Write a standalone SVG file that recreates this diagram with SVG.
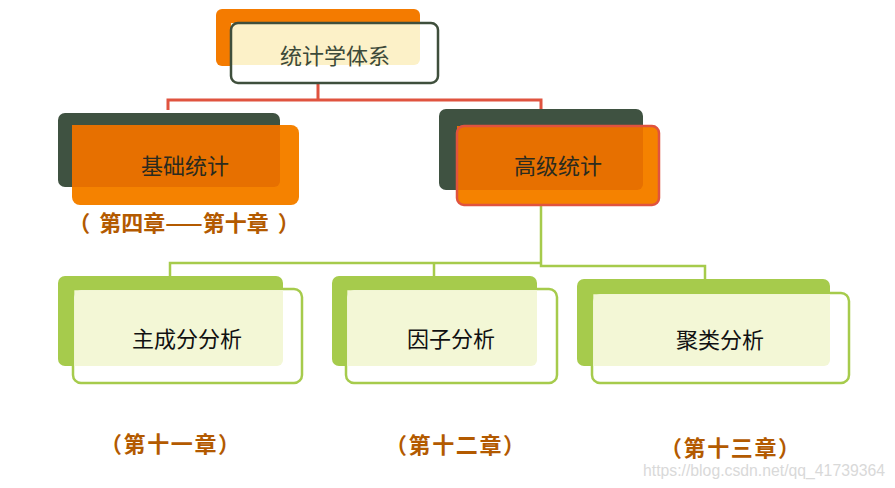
<svg xmlns="http://www.w3.org/2000/svg" width="895" height="488" viewBox="0 0 895 488">
<style>
.cn{font-family:"Noto Sans CJK SC","Noto Sans",sans-serif;font-size:22px;text-anchor:middle;dominant-baseline:central}
.lbl{font-family:"Noto Sans CJK SC","Noto Sans",sans-serif;font-size:22px;font-weight:bold;fill:#B35A00;text-anchor:middle;dominant-baseline:central}
.dark{fill:#3F5241}
.org{fill:#F58200}
.ovo{fill:#E77000}
.grn{fill:#A6CB4C}
.ovg{fill:#F3F7D6}
.gfront{fill:#FFFFFF;stroke:#A6CB4C;stroke-width:2.5}
.red{fill:none;stroke:#E0533F;stroke-width:3}
.gl{fill:none;stroke:#A6CB4C;stroke-width:2.5}
</style>
<rect width="895" height="488" fill="#FFFFFF"/>
<g id="connectors">
<path class="red" d="M318,83 V100 M168,110 V100 H541 V110"/>
<path d="M318,68 V82" stroke="#F5E6C0" stroke-width="2" fill="none"/>
<path class="gl" d="M541,205 V266 H705 V279 M541,263 H170 V276 M434,263 V276"/>
</g>
<g id="node-top">
<rect x="216" y="9" width="204" height="57" rx="6" fill="#F47B00"/>
<rect x="231" y="23" width="207" height="60" rx="7" fill="#FFFFFF"/>
<path d="M231,23 H420 V59 a6,6 0 0 1 -6,6 H231 Z" fill="#FCF1C8"/>
<rect x="231" y="23" width="207" height="60" rx="7" fill="none" stroke="#3F4F3C" stroke-width="2.5"/>
<text class="cn" x="335" y="54" fill="#3D4A3A">统计学体系</text>
</g>
<g id="node-basic">
<rect class="dark" x="58" y="113" width="222" height="74" rx="7"/>
<rect class="org" x="72" y="125" width="227" height="80" rx="8"/>
<path class="ovo" d="M72,125 H280 V181 a6,6 0 0 1 -6,6 H72 Z"/>
<text class="cn" x="185" y="164" fill="#2B2B1F">基础统计</text>
<text class="lbl" x="184" y="221">（<tspan dx="9">第四章——第十章</tspan><tspan dx="9">）</tspan></text>
</g>
<g id="node-advanced">
<rect class="dark" x="439" y="109" width="204" height="81" rx="7"/>
<rect class="org" x="457" y="126" width="202" height="79" rx="7"/>
<path class="ovo" d="M457,126 H643 V184 a6,6 0 0 1 -6,6 H457 Z"/>
<rect x="457" y="126" width="202" height="79" rx="7" fill="none" stroke="#E0533F" stroke-width="2.5"/>
<text class="cn" x="558" y="164" fill="#2B2B1F">高级统计</text>
</g>
<g id="node-pca">
<rect class="grn" x="58" y="276" width="225" height="90" rx="7"/>
<rect class="gfront" x="73" y="289" width="229" height="94" rx="8"/>
<path class="ovg" d="M74.3,290.3 H283 V360 a6,6 0 0 1 -6,6 H74.3 Z"/>
<text class="cn" x="187" y="337" fill="#111111">主成分分析</text>
<text class="lbl" x="170" y="442" textLength="140" lengthAdjust="spacing">（第十一章）</text>
</g>
<g id="node-factor">
<rect class="grn" x="332" y="276" width="205" height="90" rx="7"/>
<rect class="gfront" x="346" y="289" width="211" height="94" rx="8"/>
<path class="ovg" d="M347.3,290.3 H537 V360 a6,6 0 0 1 -6,6 H347.3 Z"/>
<text class="cn" x="451" y="337" fill="#111111">因子分析</text>
<text class="lbl" x="455" y="443" textLength="140" lengthAdjust="spacing">（第十二章）</text>
</g>
<g id="node-cluster">
<rect class="grn" x="577" y="279" width="253" height="87" rx="7"/>
<rect class="gfront" x="592" y="293" width="257" height="90" rx="8"/>
<path class="ovg" d="M593.3,294.3 H830 V360 a6,6 0 0 1 -6,6 H593.3 Z"/>
<text class="cn" x="720" y="338" fill="#111111">聚类分析</text>
<text class="lbl" x="730" y="446" textLength="140" lengthAdjust="spacing">（第十三章）</text>
</g>
<text x="885" y="470" font-family="'Liberation Sans',Arial,sans-serif" font-size="16" fill="#D9D9D9" text-anchor="end" dominant-baseline="central" textLength="242" lengthAdjust="spacingAndGlyphs">https://blog.csdn.net/qq_41739364</text>
</svg>
